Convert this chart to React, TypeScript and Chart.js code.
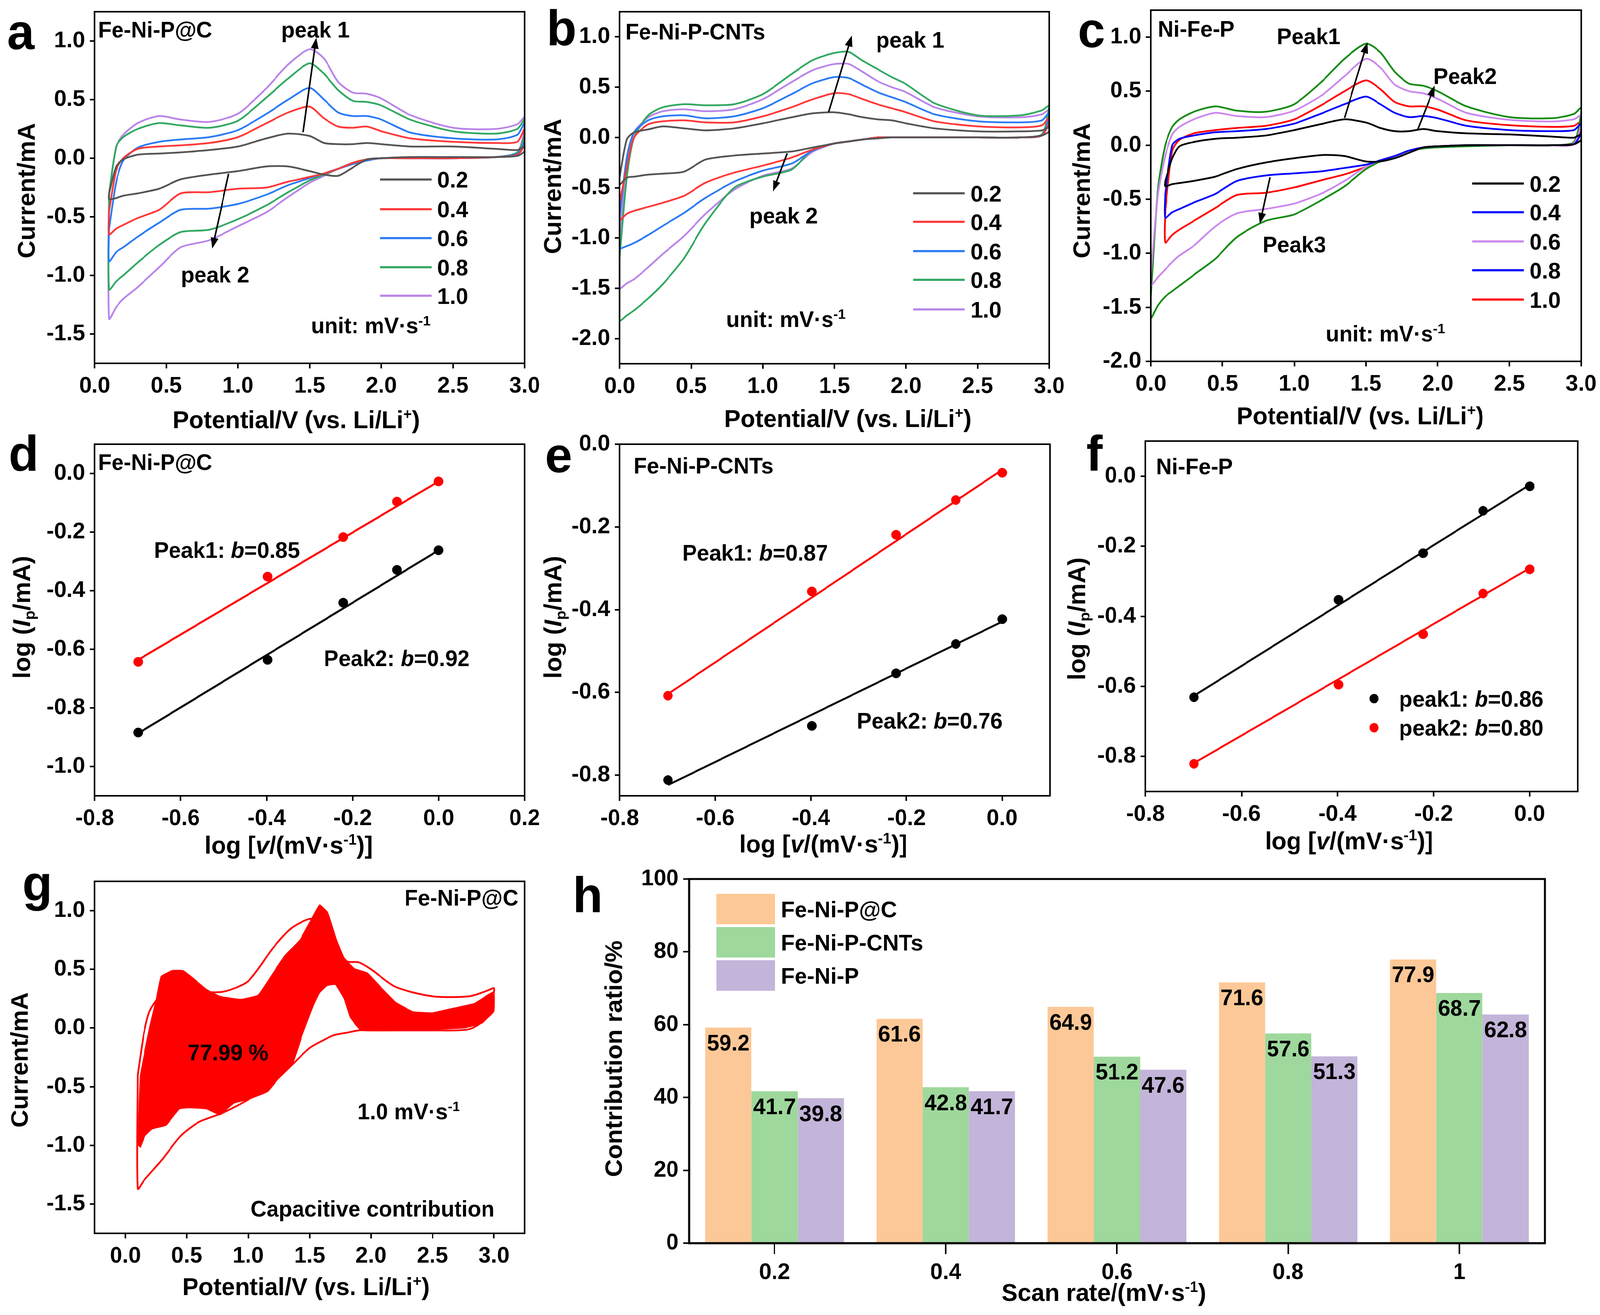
import React, { useEffect, useRef } from 'react';
import { Chart, registerables } from 'chart.js';

Chart.register(...registerables);

const FONT = '"Liberation Sans", Arial, Helvetica, sans-serif';
const TICK = 58;
const TITLE = 63;
const ANNOT = 57;
const LETTER = 128;

// ================= DATA =================
const SCAN_RATES = ['0.2', '0.4', '0.6', '0.8', '1.0'];

// ---- panel a : Fe-Ni-P@C CV curves (upper / lower branch on shared potential grid) ----
const GA = [0.1, 0.15, 0.2, 0.3, 0.45, 0.6, 0.8, 1.0, 1.2, 1.35, 1.5, 1.6, 1.7, 1.8, 1.9, 2.0, 2.2, 2.5, 2.8, 2.95, 3.0];
const A_UP_02 = [-0.3, -0.07, -0.01, 0.03, 0.04, 0.05, 0.07, 0.1, 0.17, 0.21, 0.19, 0.13, 0.12, 0.12, 0.13, 0.12, 0.1, 0.1, 0.08, 0.07, 0.1];
const A_DN_02 = [-0.35, -0.34, -0.32, -0.3, -0.26, -0.18, -0.14, -0.11, -0.07, -0.07, -0.11, -0.14, -0.15, -0.08, -0.01, 0.0, 0.01, 0.01, 0.01, 0.02, 0.06];
const A_UP_04 = [-0.45, -0.1, 0.0, 0.08, 0.1, 0.11, 0.13, 0.18, 0.3, 0.39, 0.44, 0.34, 0.27, 0.26, 0.27, 0.23, 0.17, 0.14, 0.13, 0.14, 0.25];
const A_DN_04 = [-0.65, -0.6, -0.57, -0.51, -0.44, -0.3, -0.29, -0.26, -0.25, -0.2, -0.16, -0.13, -0.09, -0.04, -0.01, 0.0, 0.0, 0.0, 0.01, 0.03, 0.12];
const A_UP_06 = [-0.6, -0.2, -0.02, 0.09, 0.14, 0.16, 0.18, 0.24, 0.38, 0.5, 0.6, 0.5, 0.39, 0.36, 0.36, 0.33, 0.22, 0.17, 0.16, 0.2, 0.3];
const A_DN_06 = [-0.88, -0.8, -0.76, -0.67, -0.55, -0.44, -0.43, -0.39, -0.31, -0.23, -0.17, -0.13, -0.09, -0.05, -0.02, 0.0, 0.0, 0.0, 0.01, 0.04, 0.15];
const A_UP_08 = [-0.3, 0.1, 0.18, 0.25, 0.3, 0.28, 0.26, 0.32, 0.52, 0.68, 0.81, 0.72, 0.58, 0.49, 0.48, 0.45, 0.33, 0.23, 0.21, 0.25, 0.33];
const A_DN_08 = [-1.12, -1.05, -1.0, -0.89, -0.74, -0.63, -0.61, -0.52, -0.4, -0.29, -0.19, -0.14, -0.09, -0.04, -0.01, 0.0, 0.0, 0.0, 0.01, 0.05, 0.2];
const A_UP_10 = [-0.3, 0.1, 0.2, 0.3, 0.36, 0.33, 0.31, 0.38, 0.6, 0.8, 0.93, 0.85, 0.65, 0.56, 0.55, 0.51, 0.37, 0.26, 0.25, 0.29, 0.35];
const A_DN_10 = [-1.37, -1.27, -1.2, -1.1, -0.93, -0.76, -0.7, -0.58, -0.46, -0.33, -0.21, -0.15, -0.09, -0.04, -0.01, 0.0, 0.0, 0.0, 0.01, 0.05, 0.25];

// ---- panel b : Fe-Ni-P-CNTs ----
const GB = [0.0, 0.05, 0.1, 0.2, 0.3, 0.45, 0.6, 0.8, 1.0, 1.2, 1.35, 1.5, 1.6, 1.7, 1.8, 1.9, 2.0, 2.2, 2.5, 2.8, 2.95, 3.0];
const B_UP_02 = [-0.4, -0.02, 0.05, 0.08, 0.11, 0.09, 0.07, 0.09, 0.14, 0.2, 0.24, 0.25, 0.23, 0.2, 0.18, 0.17, 0.14, 0.09, 0.06, 0.06, 0.07, 0.1];
const B_DN_02 = [-0.47, -0.4, -0.39, -0.37, -0.36, -0.34, -0.22, -0.18, -0.16, -0.14, -0.1, -0.06, -0.04, -0.02, -0.01, 0.0, 0.0, 0.0, 0.0, 0.0, 0.02, 0.06];
const B_UP_04 = [-0.65, -0.3, 0.0, 0.13, 0.16, 0.17, 0.15, 0.15, 0.21, 0.3, 0.38, 0.44, 0.43, 0.38, 0.33, 0.29, 0.25, 0.16, 0.11, 0.1, 0.12, 0.2];
const B_DN_04 = [-0.82, -0.76, -0.73, -0.69, -0.65, -0.58, -0.45, -0.35, -0.28, -0.2, -0.12, -0.06, -0.04, -0.02, 0.0, 0.0, 0.0, 0.0, 0.0, 0.0, 0.02, 0.15];
const B_UP_06 = [-0.8, -0.2, 0.05, 0.17, 0.21, 0.22, 0.19, 0.21, 0.29, 0.43, 0.54, 0.6, 0.59, 0.52, 0.45, 0.4, 0.35, 0.23, 0.16, 0.15, 0.17, 0.25];
const B_DN_06 = [-1.1, -1.08, -1.05, -0.97, -0.88, -0.75, -0.6, -0.44, -0.33, -0.26, -0.13, -0.06, -0.04, -0.02, 0.0, 0.0, 0.0, 0.0, 0.0, 0.0, 0.02, 0.2];
const B_UP_08 = [-1.2, -0.4, 0.0, 0.22, 0.3, 0.33, 0.32, 0.33, 0.43, 0.63, 0.77, 0.84, 0.85, 0.76, 0.68, 0.6, 0.53, 0.34, 0.22, 0.22, 0.27, 0.32];
const B_DN_08 = [-1.82, -1.77, -1.72, -1.6, -1.46, -1.2, -0.85, -0.5, -0.39, -0.32, -0.12, -0.06, -0.04, -0.02, 0.0, 0.0, 0.0, 0.0, 0.0, 0.0, 0.03, 0.3];
const B_UP_10 = [-1.0, -0.3, 0.05, 0.2, 0.26, 0.28, 0.26, 0.28, 0.38, 0.55, 0.67, 0.73, 0.73, 0.65, 0.56, 0.5, 0.45, 0.3, 0.21, 0.2, 0.23, 0.28];
const B_DN_10 = [-1.5, -1.45, -1.41, -1.29, -1.16, -0.98, -0.76, -0.52, -0.38, -0.31, -0.14, -0.06, -0.04, -0.02, 0.0, 0.0, 0.0, 0.0, 0.0, 0.0, 0.03, 0.25];

// ---- panel c : Ni-Fe-P ----
const GC = [0.0, 0.05, 0.1, 0.15, 0.2, 0.3, 0.45, 0.6, 0.8, 1.0, 1.2, 1.35, 1.5, 1.6, 1.7, 1.8, 1.9, 2.0, 2.2, 2.5, 2.8, 2.95, 3.0];
const C_UP_02 = [null, null, -0.33, -0.12, -0.01, 0.03, 0.06, 0.07, 0.09, 0.14, 0.2, 0.24, 0.21, 0.16, 0.13, 0.13, 0.15, 0.13, 0.11, 0.1, 0.08, 0.07, 0.1];
const C_DN_02 = [null, null, -0.38, -0.36, -0.35, -0.33, -0.29, -0.22, -0.16, -0.12, -0.09, -0.1, -0.15, -0.15, -0.12, -0.07, -0.02, -0.01, 0.0, 0.0, 0.0, 0.01, 0.05];
const C_UP_04 = [null, null, -0.45, 0.0, 0.06, 0.09, 0.12, 0.13, 0.15, 0.2, 0.3, 0.38, 0.45, 0.38, 0.3, 0.26, 0.27, 0.25, 0.18, 0.14, 0.13, 0.14, 0.2];
const C_DN_04 = [null, null, -0.67, -0.62, -0.59, -0.53, -0.45, -0.33, -0.28, -0.26, -0.24, -0.21, -0.18, -0.14, -0.1, -0.05, -0.02, -0.01, 0.0, 0.0, 0.0, 0.01, 0.12];
const C_UP_06 = [-1.2, -0.45, -0.1, 0.1, 0.17, 0.24, 0.3, 0.27, 0.26, 0.32, 0.47, 0.64, 0.8, 0.72, 0.56, 0.5, 0.48, 0.43, 0.3, 0.235, 0.22, 0.24, 0.28];
const C_DN_06 = [-1.3, -1.22, -1.15, -1.08, -1.02, -0.93, -0.75, -0.63, -0.59, -0.54, -0.44, -0.33, -0.2, -0.14, -0.1, -0.05, -0.02, -0.01, 0.0, 0.0, 0.0, 0.02, 0.2];
const C_UP_08 = [-1.4, -0.4, 0.0, 0.17, 0.24, 0.31, 0.36, 0.32, 0.31, 0.38, 0.6, 0.8, 0.94, 0.86, 0.68, 0.57, 0.55, 0.5, 0.36, 0.26, 0.25, 0.29, 0.35];
const C_DN_08 = [-1.6, -1.48, -1.4, -1.35, -1.3, -1.2, -1.05, -0.85, -0.7, -0.64, -0.5, -0.38, -0.22, -0.15, -0.1, -0.05, -0.03, -0.02, -0.01, 0.0, 0.0, 0.03, 0.3];
const C_UP_10 = [null, null, -0.6, -0.05, 0.05, 0.11, 0.14, 0.16, 0.18, 0.24, 0.38, 0.5, 0.6, 0.52, 0.4, 0.36, 0.36, 0.33, 0.23, 0.185, 0.17, 0.18, 0.22];
const C_DN_10 = [null, null, -0.9, -0.83, -0.78, -0.7, -0.58, -0.46, -0.44, -0.39, -0.32, -0.27, -0.2, -0.14, -0.1, -0.05, -0.02, -0.01, 0.0, 0.0, 0.0, 0.01, 0.15];

// ---- panels d, e, f : log(Ip) vs log(v) ----
const LOG_V = [-0.699, -0.398, -0.222, -0.097, 0];
const FIT_X = [-0.699, 0];
const D_PEAK1 = [-0.643, -0.352, -0.217, -0.096, -0.027];
const D_PEAK2 = [-0.884, -0.636, -0.441, -0.329, -0.262];
const D_FIT1 = [-0.636, -0.027];
const D_FIT2 = [-0.887, -0.262];
const E_PEAK1 = [-0.608, -0.356, -0.219, -0.135, -0.069];
const E_PEAK2 = [-0.812, -0.681, -0.554, -0.483, -0.423];
const E_FIT1 = [-0.604, -0.062];
const E_FIT2 = [-0.824, -0.429];
const F_PEAK1 = [-0.631, -0.353, -0.22, -0.099, -0.029];
const F_PEAK2 = [-0.821, -0.595, -0.451, -0.335, -0.266];
const F_FIT1 = [-0.627, -0.025];
const F_FIT2 = [-0.819, -0.263];

// ---- panel g : capacitive contribution at 1.0 mV/s ----
const G_UP = [-0.4, -0.05, 0.15, 0.3, 0.45, 0.32, 0.31, 0.4, 0.68, 0.85, 0.93, 0.9, 0.72, 0.57, 0.56, 0.5, 0.35, 0.27, 0.27, 0.32, 0.34];
const G_DN = [-1.37, -1.3, -1.24, -1.12, -0.92, -0.8, -0.72, -0.61, -0.47, -0.32, -0.17, -0.11, -0.06, -0.04, -0.02, -0.02, -0.02, -0.02, -0.01, 0.1, 0.3];
const G_CAP_X = [0.1, 0.12, 0.2, 0.25, 0.29, 0.38, 0.47, 0.58, 0.66, 0.77, 0.94, 1.08, 1.19, 1.3, 1.42, 1.5, 1.58, 1.65, 1.72, 1.78, 1.86, 1.97, 2.06, 2.2, 2.34, 2.5, 2.67, 2.84, 3.0, 3.0, 2.9, 2.76, 2.3, 1.92, 1.83, 1.78, 1.71, 1.64, 1.58, 1.53, 1.44, 1.36, 1.3, 1.16, 1.0, 0.885, 0.77, 0.66, 0.52, 0.44, 0.33, 0.22, 0.16, 0.12];
const G_CAP_Y = [-1.0, -0.41, 0.02, 0.24, 0.44, 0.49, 0.49, 0.4, 0.33, 0.27, 0.245, 0.28, 0.45, 0.62, 0.75, 0.9, 1.05, 0.98, 0.75, 0.6, 0.51, 0.47, 0.37, 0.22, 0.14, 0.13, 0.17, 0.21, 0.31, 0.14, 0.04, 0.0, -0.02, -0.02, 0.09, 0.25, 0.37, 0.36, 0.3, 0.19, -0.06, -0.31, -0.36, -0.54, -0.61, -0.64, -0.74, -0.69, -0.68, -0.69, -0.83, -0.86, -0.92, -1.02];

// ---- panel h : contribution ratio bars ----
const H_CATEGORIES = ['0.2', '0.4', '0.6', '0.8', '1'];
const H_SERIES = ['Fe-Ni-P@C', 'Fe-Ni-P-CNTs', 'Fe-Ni-P'];
const H_FENIPC = [59.2, 61.6, 64.9, 71.6, 77.9];
const H_CNTS = [41.7, 42.8, 51.2, 57.6, 68.7];
const H_FENIP = [39.8, 41.7, 47.6, 51.3, 62.8];

// ---- ticks ----
const CV_X_TICKS = [0, 0.5, 1.0, 1.5, 2.0, 2.5, 3.0];
const A_Y_TICKS = [-1.5, -1.0, -0.5, 0, 0.5, 1.0];
const B_Y_TICKS = [-2.0, -1.5, -1.0, -0.5, 0, 0.5, 1.0];
const C_Y_TICKS = [-2.0, -1.5, -1.0, -0.5, 0, 0.5, 1.0];
const D_X_TICKS = [-0.8, -0.6, -0.4, -0.2, 0, 0.2];
const D_Y_TICKS = [-1.0, -0.8, -0.6, -0.4, -0.2, 0];
const EF_X_TICKS = [-0.8, -0.6, -0.4, -0.2, 0];
const EF_Y_TICKS = [-0.8, -0.6, -0.4, -0.2, 0];
const H_Y_TICKS = [0, 20, 40, 60, 80, 100];

// ---- colours ----
const COL_AB = ['#555555', '#FF3838', '#2B7BF4', '#32A862', '#B985E8'];
const COL_C_CURVES = ['#000000', '#0000FF', '#CC88EE', '#148C14', '#FF0000'];
const COL_C_LEGEND = ['#000000', '#0000FF', '#CC88EE', '#0000FF', '#FF0000'];
const RED = '#FF0000';
const H_COLORS = ['#FDC897', '#9ED89C', '#C3B4D9'];

// ================= HELPERS =================
type Run = string | [string, string];
type Margins = { l: number; t: number; r: number; b: number };
type PX = (v: number) => number;

const M: Margins = { l: 270, t: 140, r: 70, b: 200 };
const MH: Margins = { l: 330, t: 140, r: 70, b: 180 };

const POT_TITLE: Run[] = ['Potential/V (vs. Li/Li', ['+', 'sup'], ')'];
const CUR_TITLE: Run[] = ['Current/mA'];
const LOGI_TITLE: Run[] = ['log (', ['I', 'i'], ['p', 'sub'], '/mA)'];
const LOGV_TITLE: Run[] = ['log [', ['v', 'i'], '/(mV·s', ['-1', 'sup'], ')]'];
const UNIT: Run[] = ['unit: mV·s', ['-1', 'sup']];

function rich(ctx: CanvasRenderingContext2D, runs: Run[], x: number, y: number, size: number,
  align: 'left' | 'center' | 'right' = 'left', rot = 0, color = '#000') {
  ctx.save();
  ctx.translate(x, y);
  if (rot) ctx.rotate(rot);
  const parts = runs.map((r) => {
    const [t, s] = typeof r === 'string' ? [r, ''] : r;
    const small = s === 'sup' || s === 'sub';
    const fs = small ? size * 0.62 : size;
    const font = `${s === 'i' ? 'italic ' : ''}bold ${fs}px ${FONT}`;
    ctx.font = font;
    return { t, font, w: ctx.measureText(t).width, dy: s === 'sup' ? -size * 0.36 : s === 'sub' ? size * 0.2 : 0 };
  });
  const total = parts.reduce((a, p) => a + p.w, 0);
  let cx = align === 'left' ? 0 : align === 'center' ? -total / 2 : -total;
  ctx.fillStyle = color;
  ctx.textAlign = 'left';
  ctx.textBaseline = 'alphabetic';
  const base = size * 0.36;
  for (const p of parts) {
    ctx.font = p.font;
    ctx.fillText(p.t, cx, base + p.dy);
    cx += p.w;
  }
  ctx.restore();
}

function letter(ctx: CanvasRenderingContext2D, t: string, x: number, y: number) {
  ctx.save();
  ctx.font = `bold ${LETTER}px ${FONT}`;
  ctx.fillStyle = '#000';
  ctx.textAlign = 'left';
  ctx.textBaseline = 'alphabetic';
  ctx.fillText(t, x, y);
  ctx.restore();
}

function arrow(ctx: CanvasRenderingContext2D, x1: number, y1: number, x2: number, y2: number) {
  const a = Math.atan2(y2 - y1, x2 - x1);
  const hl = 28, hw = 10;
  ctx.save();
  ctx.strokeStyle = '#000';
  ctx.fillStyle = '#000';
  ctx.lineWidth = 4;
  ctx.beginPath();
  ctx.moveTo(x1, y1);
  ctx.lineTo(x2 - Math.cos(a) * hl * 0.8, y2 - Math.sin(a) * hl * 0.8);
  ctx.stroke();
  ctx.beginPath();
  ctx.moveTo(x2, y2);
  ctx.lineTo(x2 - hl * Math.cos(a) + hw * Math.sin(a), y2 - hl * Math.sin(a) - hw * Math.cos(a));
  ctx.lineTo(x2 - hl * Math.cos(a) - hw * Math.sin(a), y2 - hl * Math.sin(a) + hw * Math.cos(a));
  ctx.closePath();
  ctx.fill();
  ctx.restore();
}

function lineLegend(ctx: CanvasRenderingContext2D, px: PX, py: PX, x1: number, x2: number, tx: number, ys: number[], colors: string[]) {
  ys.forEach((y, i) => {
    ctx.save();
    ctx.strokeStyle = colors[i];
    ctx.lineWidth = 5.5;
    ctx.beginPath();
    ctx.moveTo(px(x1), py(y));
    ctx.lineTo(px(x2), py(y));
    ctx.stroke();
    ctx.restore();
    rich(ctx, [SCAN_RATES[i]], px(tx), py(y), TICK);
  });
}

function loop(grid: number[], up: (number | null)[], dn: (number | null)[]) {
  const pts: { x: number; y: number }[] = [];
  grid.forEach((x, i) => { if (up[i] != null) pts.push({ x, y: up[i] as number }); });
  for (let i = grid.length - 1; i >= 0; i--) if (dn[i] != null) pts.push({ x: grid[i], y: dn[i] as number });
  if (pts.length) pts.push({ ...pts[0] });
  return pts;
}

function fitScale(s: any, m: Margins, horizontal: boolean) {
  if (horizontal) s.height = m.b; else s.width = m.l;
  s.paddingLeft = 0; s.paddingRight = 0; s.paddingTop = 0; s.paddingBottom = 0;
}

function axis(min: number, max: number, ticks: number[], m: Margins, horizontal: boolean,
  fmt: (v: number) => string = (v) => v.toFixed(1), bw = 4, tl = 13) {
  return {
    type: 'linear', min, max,
    afterBuildTicks: (ax: any) => { ax.ticks = ticks.map((v) => ({ value: v })); },
    afterFit: (s: any) => fitScale(s, m, horizontal),
    ticks: {
      color: '#000', font: { family: FONT, size: TICK, weight: 'bold' },
      padding: horizontal ? 11 : 12, autoSkip: false, maxRotation: 0,
      callback: (v: any) => fmt(Number(v)),
    },
    grid: { drawOnChartArea: false, drawTicks: true, tickLength: tl, color: '#000', lineWidth: 4 },
    border: { display: true, color: '#000', width: bw },
  };
}

function baseOptions(m: Margins, scales: any) {
  return {
    responsive: false, animation: false, devicePixelRatio: 1, events: [],
    layout: { padding: { left: 0, top: m.t, right: m.r, bottom: 0 } },
    plugins: { legend: { display: false }, tooltip: { enabled: false } },
    scales,
  };
}

function decor(ox: number, oy: number, draw: (ctx: CanvasRenderingContext2D, px: PX, py: PX) => void, frameW = 4) {
  return {
    id: 'decor',
    afterDraw(chart: any) {
      const ctx = chart.ctx as CanvasRenderingContext2D;
      const ca = chart.chartArea;
      const xs = chart.scales.x, ys = chart.scales.y;
      ctx.save();
      ctx.translate(-ox, -oy);
      const px: PX = (v) => xs.getPixelForValue(v) + ox;
      const py: PX = (v) => ys.getPixelForValue(v) + oy;
      ctx.strokeStyle = '#000';
      ctx.lineWidth = frameW;
      ctx.strokeRect(ca.left + ox, ca.top + oy, ca.right - ca.left, ca.bottom - ca.top);
      draw(ctx, px, py);
      ctx.restore();
    },
  };
}

type Build = (ox: number, oy: number, m: Margins) => any;

function cvBuild(grid: number[], series: (number | null)[][][], colors: string[], yr: number[], yt: number[],
  draw: (ctx: CanvasRenderingContext2D, px: PX, py: PX) => void, xr = [0, 3], extra: any[] = []): Build {
  return (ox, oy, m) => ({
    type: 'scatter',
    data: {
      datasets: [
        ...extra,
        ...series.map((s, i) => ({
          data: loop(grid, s[0], s[1]), showLine: true, borderColor: colors[i], backgroundColor: colors[i],
          borderWidth: 4.5, pointRadius: 0, tension: 0.25, fill: false,
        })),
      ],
    },
    options: baseOptions(m, {
      x: axis(xr[0], xr[1], CV_X_TICKS, m, true),
      y: axis(yr[0], yr[1], yt, m, false),
    }),
    plugins: [decor(ox, oy, draw)],
  });
}

function logBuild(series: { pts: number[]; fit: number[]; color: string }[], xr: number[], yr: number[],
  xt: number[], yt: number[], draw: (ctx: CanvasRenderingContext2D, px: PX, py: PX) => void): Build {
  return (ox, oy, m) => ({
    type: 'scatter',
    data: {
      datasets: series.flatMap((s) => [
        { data: FIT_X.map((x, i) => ({ x, y: s.fit[i] })), showLine: true, borderColor: s.color, borderWidth: 5, pointRadius: 0 },
        { data: LOG_V.map((x, i) => ({ x, y: s.pts[i] })), showLine: false, pointRadius: 12, pointBackgroundColor: s.color, pointBorderColor: s.color, pointBorderWidth: 1 },
      ]),
    },
    options: baseOptions(m, {
      x: axis(xr[0], xr[1], xt, m, true),
      y: axis(yr[0], yr[1], yt, m, false),
    }),
    plugins: [decor(ox, oy, draw)],
  });
}

// ================= PANELS =================
const buildA = cvBuild(GA, [[A_UP_02, A_DN_02], [A_UP_04, A_DN_04], [A_UP_06, A_DN_06], [A_UP_08, A_DN_08], [A_UP_10, A_DN_10]],
  COL_AB, [-1.75, 1.25], A_Y_TICKS, (ctx, px, py) => {
    letter(ctx, 'a', 18, 126);
    rich(ctx, CUR_TITLE, 67, 488, TITLE, 'center', -Math.PI / 2);
    rich(ctx, POT_TITLE, 770, 1073, TITLE, 'center');
    rich(ctx, ['Fe-Ni-P@C'], px(0.024), py(1.1), ANNOT);
    rich(ctx, ['peak 1'], px(1.54), py(1.1), ANNOT, 'center');
    rich(ctx, ['peak 2'], px(0.84), py(-0.99), ANNOT, 'center');
    rich(ctx, UNIT, px(1.51), py(-1.425), ANNOT);
    arrow(ctx, px(1.455), py(0.222), px(1.546), py(1.028));
    arrow(ctx, px(0.935), py(-0.133), px(0.82), py(-0.771));
    lineLegend(ctx, px, py, 1.99, 2.35, 2.39, [-0.182, -0.435, -0.682, -0.93, -1.173], COL_AB);
  });

const buildB = cvBuild(GB, [[B_UP_02, B_DN_02], [B_UP_04, B_DN_04], [B_UP_06, B_DN_06], [B_UP_08, B_DN_08], [B_UP_10, B_DN_10]],
  COL_AB, [-2.25, 1.25], B_Y_TICKS, (ctx, px, py) => {
    letter(ctx, 'b', 1420, 116);
    rich(ctx, CUR_TITLE, 1434, 477, TITLE, 'center', -Math.PI / 2);
    rich(ctx, POT_TITLE, 2203, 1070, TITLE, 'center');
    rich(ctx, ['Fe-Ni-P-CNTs'], px(0.04), py(1.054), ANNOT);
    rich(ctx, ['peak 1'], px(1.79), py(0.972), ANNOT);
    rich(ctx, ['peak 2'], px(1.145), py(-0.776), ANNOT, 'center');
    rich(ctx, UNIT, px(0.744), py(-1.805), ANNOT);
    arrow(ctx, px(1.46), py(0.25), px(1.62), py(1.013));
    arrow(ctx, px(1.17), py(-0.158), px(1.07), py(-0.539));
    lineLegend(ctx, px, py, 2.05, 2.41, 2.45, [-0.555, -0.839, -1.13, -1.416, -1.71], COL_AB);
  });

const buildC = cvBuild(GC, [[C_UP_02, C_DN_02], [C_UP_04, C_DN_04], [C_UP_06, C_DN_06], [C_UP_08, C_DN_08], [C_UP_10, C_DN_10]],
  COL_C_CURVES, [-2.0, 1.25], C_Y_TICKS, (ctx, px, py) => {
    letter(ctx, 'c', 2800, 121);
    rich(ctx, CUR_TITLE, 2809, 488, TITLE, 'center', -Math.PI / 2);
    rich(ctx, POT_TITLE, 3534, 1063, TITLE, 'center');
    rich(ctx, ['Ni-Fe-P'], px(0.048), py(1.078), ANNOT);
    rich(ctx, ['Peak1'], px(1.1), py(1.008), ANNOT, 'center');
    rich(ctx, ['Peak2'], px(1.97), py(0.64), ANNOT);
    rich(ctx, ['Peak3'], px(1.0), py(-0.916), ANNOT, 'center');
    rich(ctx, UNIT, px(1.22), py(-1.74), ANNOT);
    arrow(ctx, px(1.35), py(0.253), px(1.51), py(0.952));
    arrow(ctx, px(1.86), py(0.142), px(1.98), py(0.552));
    arrow(ctx, px(0.83), py(-0.296), px(0.76), py(-0.727));
    lineLegend(ctx, px, py, 2.24, 2.6, 2.64, [-0.354, -0.62, -0.89, -1.157, -1.428], COL_C_LEGEND);
  });

const buildD = logBuild([
  { pts: D_PEAK1, fit: D_FIT1, color: RED },
  { pts: D_PEAK2, fit: D_FIT2, color: '#000000' },
], [-0.8, 0.2], [-1.1, 0.1], D_X_TICKS, D_Y_TICKS, (ctx, px, py) => {
  letter(ctx, 'd', 22, 1205);
  rich(ctx, LOGI_TITLE, 55, 1580, TITLE, 'center', -Math.PI / 2);
  rich(ctx, LOGV_TITLE, 750, 2162, TITLE, 'center');
  rich(ctx, ['Fe-Ni-P@C'], px(-0.792), py(0.04), ANNOT);
  rich(ctx, ['Peak1: ', ['b', 'i'], '=0.85'], px(-0.662), py(-0.26), ANNOT);
  rich(ctx, ['Peak2: ', ['b', 'i'], '=0.92'], px(-0.267), py(-0.63), ANNOT);
});

const buildE = logBuild([
  { pts: E_PEAK1, fit: E_FIT1, color: RED },
  { pts: E_PEAK2, fit: E_FIT2, color: '#000000' },
], [-0.8, 0.1], [-0.85, 0.0], EF_X_TICKS, EF_Y_TICKS, (ctx, px, py) => {
  letter(ctx, 'e', 1416, 1209);
  rich(ctx, LOGI_TITLE, 1435, 1580, TITLE, 'center', -Math.PI / 2);
  rich(ctx, LOGV_TITLE, 2139, 2159, TITLE, 'center');
  rich(ctx, ['Fe-Ni-P-CNTs'], px(-0.771), py(-0.051), ANNOT);
  rich(ctx, ['Peak1: ', ['b', 'i'], '=0.87'], px(-0.669), py(-0.262), ANNOT);
  rich(ctx, ['Peak2: ', ['b', 'i'], '=0.76'], px(-0.304), py(-0.668), ANNOT);
});

const buildF = logBuild([
  { pts: F_PEAK1, fit: F_FIT1, color: '#000000' },
  { pts: F_PEAK2, fit: F_FIT2, color: RED },
], [-0.8, 0.1], [-0.9, 0.1], EF_X_TICKS, EF_Y_TICKS, (ctx, px, py) => {
  letter(ctx, 'f', 2822, 1205);
  rich(ctx, LOGI_TITLE, 2796, 1584, TITLE, 'center', -Math.PI / 2);
  rich(ctx, LOGV_TITLE, 3505, 2151, TITLE, 'center');
  rich(ctx, ['Ni-Fe-P'], px(-0.778), py(0.028), ANNOT);
  const items: [string, string, number][] = [['0.86', '#000000', -0.635], ['0.80', RED, -0.718]];
  items.forEach(([b, col, y], i) => {
    ctx.save();
    ctx.fillStyle = col;
    ctx.beginPath();
    ctx.arc(px(-0.324), py(y), 12, 0, Math.PI * 2);
    ctx.fill();
    ctx.restore();
    rich(ctx, [`peak${i + 1}: `, ['b', 'i'], `=${b}`], px(-0.272), py(y), ANNOT);
  });
});

const buildG = cvBuild(GA, [[G_UP, G_DN]], [RED], [-1.75, 1.25], A_Y_TICKS, (ctx, px, py) => {
  letter(ctx, 'g', 58, 2305);
  rich(ctx, CUR_TITLE, 49, 2713, TITLE, 'center', -Math.PI / 2);
  rich(ctx, POT_TITLE, 795, 3292, TITLE, 'center');
  rich(ctx, ['Fe-Ni-P@C'], px(3.2), py(1.113), ANNOT, 'right');
  rich(ctx, ['77.99 %'], px(0.835), py(-0.205), ANNOT, 'center');
  rich(ctx, ['1.0 mV·s', ['-1', 'sup']], px(1.89), py(-0.708), ANNOT);
  rich(ctx, ['Capacitive contribution'], px(1.02), py(-1.54), ANNOT);
}, [-0.25, 3.25], [{
  data: G_CAP_X.map((x, i) => ({ x, y: G_CAP_Y[i] })), showLine: true, borderColor: RED, backgroundColor: RED,
  borderWidth: 2, pointRadius: 0, tension: 0.1, fill: 'shape',
}]);

const buildH: Build = (ox, oy, m) => ({
  type: 'bar',
  data: {
    labels: H_CATEGORIES,
    datasets: [H_FENIPC, H_CNTS, H_FENIP].map((d, i) => ({
      label: H_SERIES[i], data: d, backgroundColor: H_COLORS[i], borderWidth: 0,
      categoryPercentage: 0.81, barPercentage: 1.0,
    })),
  },
  options: baseOptions(m, {
    x: {
      type: 'category',
      afterFit: (s: any) => fitScale(s, m, true),
      ticks: { color: '#000', font: { family: FONT, size: TICK, weight: 'bold' }, padding: 13, maxRotation: 0 },
      grid: { offset: false, drawOnChartArea: false, drawTicks: true, tickLength: 28, color: '#000', lineWidth: 4 },
      border: { display: true, color: '#000', width: 5 },
    },
    y: axis(0, 100, H_Y_TICKS, m, false, (v) => String(Math.round(v)), 5, 15),
  }),
  plugins: [
    {
      id: 'barLabels',
      afterDatasetsDraw(chart: any) {
        const ctx = chart.ctx as CanvasRenderingContext2D;
        chart.data.datasets.forEach((ds: any, i: number) => {
          chart.getDatasetMeta(i).data.forEach((el: any, j: number) => {
            rich(ctx, [Number(ds.data[j]).toFixed(1)], el.x, el.y + 38, ANNOT, 'center');
          });
        });
      },
    },
    decor(ox, oy, (ctx) => {
      letter(ctx, 'h', 1488, 2335);
      rich(ctx, ['Contribution ratio/%'], 1593, 2710, TITLE, 'center', -Math.PI / 2);
      rich(ctx, ['Scan rate/(mV·s', ['-1', 'sup'], ')'], 2868, 3307, TITLE, 'center');
      H_SERIES.forEach((name, i) => {
        ctx.fillStyle = H_COLORS[i];
        ctx.fillRect(1861, 2288 + i * 85, 153, 78);
        rich(ctx, [name], 2029, 2327 + i * 85, 58);
      });
    }, 5),
  ],
});

// ================= COMPONENTS =================
function Panel({ rect, build, m = M }: { rect: number[]; build: Build; m?: Margins }) {
  const ref = useRef<HTMLCanvasElement>(null);
  const ox = rect[0] - m.l;
  const oy = rect[1] - m.t;
  const w = rect[2] - rect[0] + m.l + m.r;
  const h = rect[3] - rect[1] + m.t + m.b;
  useEffect(() => {
    if (!ref.current) return;
    const chart = new Chart(ref.current, build(ox, oy, m));
    return () => chart.destroy();
  }, []);
  return (
    <canvas ref={ref} width={w} height={h}
      style={{ position: 'absolute', left: ox, top: oy, width: w, height: h }} />
  );
}

export default function App() {
  const W = 4157, H = 3366;
  const iw = typeof window !== 'undefined' ? window.innerWidth : W;
  const ih = typeof window !== 'undefined' ? window.innerHeight : H;
  const sx = iw > 1000 && iw < 8000 ? iw / W : 1;
  const sy = ih > 1000 && ih < 8000 ? ih / H : 1;
  return (
    <div style={{
      position: 'fixed', left: 0, top: 0, width: W, height: H, background: '#ffffff', overflow: 'hidden',
      transform: `scale(${sx}, ${sy})`, transformOrigin: '0 0',
    }}>
      <Panel rect={[246, 30, 1363, 930]} build={buildA} />
      <Panel rect={[1610, 30, 2726, 931]} build={buildB} />
      <Panel rect={[2990, 26, 4108, 925]} build={buildC} />
      <Panel rect={[246, 1137, 1363, 2037]} build={buildD} />
      <Panel rect={[1610, 1137, 2728, 2037]} build={buildE} />
      <Panel rect={[2976, 1129, 4099, 2026]} build={buildF} />
      <Panel rect={[246, 2256, 1363, 3157]} build={buildG} />
      <Panel rect={[1790, 2250, 4014, 3182]} build={buildH} m={MH} />
    </div>
  );
}
